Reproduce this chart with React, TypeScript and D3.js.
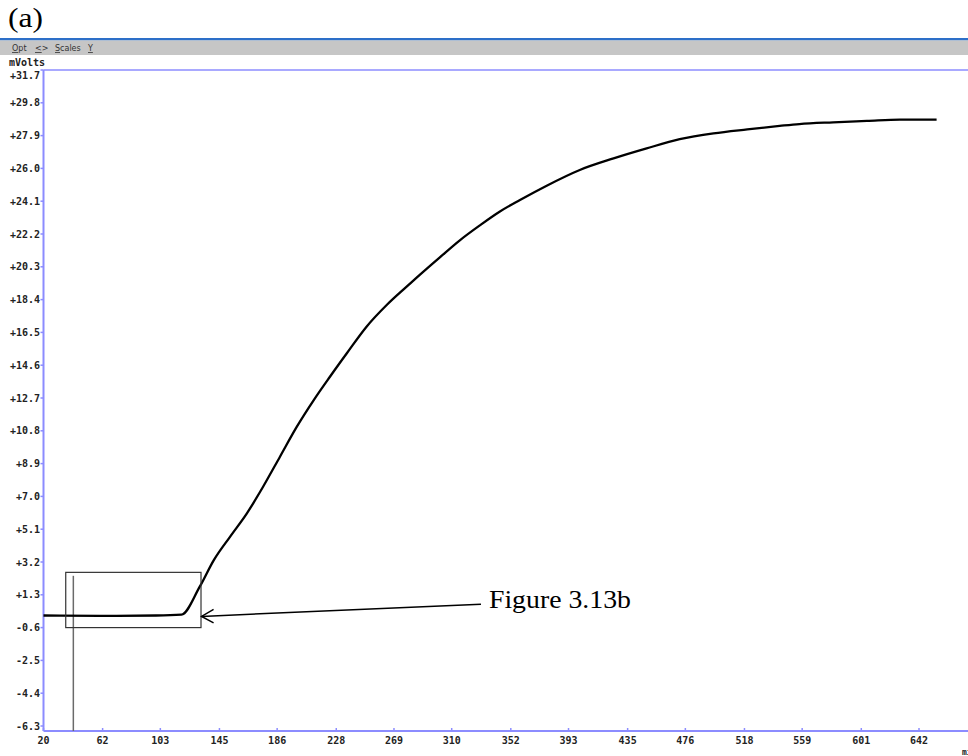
import React from "react";
import * as d3 from "d3";

// ---- data ----
const timeValues = [20, 60, 100, 118, 131, 141, 152.5, 164.5, 176, 188, 200, 212, 223.5, 235.5, 249.5, 264, 278, 287.5, 302, 316, 330, 344, 358.5, 377.5, 401, 425, 448.5, 472, 496, 520, 543, 557, 581, 605, 628.5, 654.5];
const mVoltValues = [0.1, 0.08, 0.1, 0.15, 1.77, 3.31, 4.66, 6.02, 7.56, 9.3, 11.04, 12.58, 13.93, 15.29, 16.83, 18.1, 19.15, 19.85, 20.88, 21.85, 22.7, 23.49, 24.17, 25.0, 25.91, 26.58, 27.16, 27.69, 28.03, 28.26, 28.46, 28.57, 28.67, 28.75, 28.83, 28.83];

const yTickLabels = ["+31.7", "+29.8", "+27.9", "+26.0", "+24.1", "+22.2", "+20.3", "+18.4", "+16.5", "+14.6", "+12.7", "+10.8", "+8.9", "+7.0", "+5.1", "+3.2", "+1.3", "-0.6", "-2.5", "-4.4", "-6.3"];
const xTickLabels = ["20", "62", "103", "145", "186", "228", "269", "310", "352", "393", "435", "476", "518", "559", "601", "642", "684"];
const toolbarItems = ["Opt", "<>", "Scales", "Y"];

// annotation (data units)
const markerTime = 41.2;
const markerTop = 2.4;
const zoomBox = { x0: 35.8, x1: 131.9, y0: 2.6, y1: -0.6 };
const arrowTip = { x: 132.3, y: 0.05 };
const arrowTail = { x: 330.8, y: 0.75 };
const annotationText = "Figure 3.13b";

export default function App() {
  const W = 968, H = 756;
  const x = d3.scaleLinear().domain([20, 642]).range([43.5, 919]);
  const y = d3.scaleLinear().domain([31.7, -6.3]).range([70, 726]);
  const axisBottom = 731;
  const axisColor = "#8c8cff";
  const mono = "'DejaVu Sans Mono', monospace";
  const serif = "'Liberation Serif', 'Times New Roman', serif";

  const line = d3
    .line<number>()
    .x((_, i) => x(timeValues[i]))
    .y((d) => y(d))
    .curve(d3.curveMonotoneX);

  const tipX = x(arrowTip.x), tipY = y(arrowTip.y);
  const toolbarX = [12, 35, 55, 88];

  return (
    <svg width={W} height={H} style={{ position: "absolute", left: 0, top: 0, background: "#fff" }}>
      <text x={8} y={27} fontFamily={serif} fontSize={28} textLength={35} lengthAdjust="spacingAndGlyphs">(a)</text>

      {/* toolbar */}
      <rect x={0} y={38} width={W} height={2.5} fill="#2d6fc8" />
      <rect x={0} y={40.5} width={W} height={14.5} fill="#c6c6c6" />
      {toolbarItems.map((t, i) => (
        <text key={t} x={toolbarX[i]} y={51} fontFamily="'DejaVu Sans', sans-serif" fontSize={8} fill="#333">
          <tspan textDecoration="underline">{t[0]}</tspan>
          {t.slice(1)}
        </text>
      ))}

      <text x={9} y={66} fontFamily={mono} fontWeight="bold" fontSize={10} fill="#222">mVolts</text>

      {/* frame */}
      <line x1={43.5} x2={W} y1={70} y2={70} stroke={axisColor} strokeWidth={1.5} />
      <line x1={43.5} x2={43.5} y1={70} y2={axisBottom} stroke={axisColor} strokeWidth={2} />
      <line x1={43.5} x2={W} y1={axisBottom} y2={axisBottom} stroke={axisColor} strokeWidth={2} />

      {/* y ticks */}
      {yTickLabels.map((lab) => {
        const v = parseFloat(lab);
        const py = y(v);
        return (
          <g key={lab}>
            <line x1={40.5} x2={43.5} y1={py} y2={py} stroke={axisColor} strokeWidth={1.5} />
            <text x={40} y={Math.max(py, 75) + 3.5} textAnchor="end" fontFamily={mono} fontWeight="bold" fontSize={10} fill="#222">{lab}</text>
          </g>
        );
      })}

      {/* x ticks */}
      {xTickLabels.map((lab) => {
        const px = x(+lab);
        return (
          <g key={lab}>
            <line x1={px} x2={px} y1={axisBottom - 3} y2={axisBottom} stroke={axisColor} strokeWidth={1.5} />
            <text x={px} y={744} textAnchor="middle" fontFamily={mono} fontWeight="bold" fontSize={10} fill="#222">{lab}</text>
          </g>
        );
      })}
      <text x={962} y={755} fontFamily={mono} fontWeight="bold" fontSize={8} fill="#222">min</text>

      {/* marker */}
      <line x1={x(markerTime)} x2={x(markerTime)} y1={y(markerTop)} y2={axisBottom} stroke="#6a6a6a" strokeWidth={1.5} />

      {/* curve */}
      <path d={line(mVoltValues) || ""} fill="none" stroke="#000" strokeWidth={2.3} strokeLinejoin="round" />

      {/* zoom box */}
      <rect x={x(zoomBox.x0)} y={y(zoomBox.y0)} width={x(zoomBox.x1) - x(zoomBox.x0)} height={y(zoomBox.y1) - y(zoomBox.y0)} fill="none" stroke="#333" strokeWidth={1.2} />

      {/* arrow */}
      <line x1={x(arrowTail.x)} y1={y(arrowTail.y)} x2={tipX} y2={tipY} stroke="#000" strokeWidth={1.5} />
      <polyline points={`${tipX + 12},${tipY - 7} ${tipX},${tipY} ${tipX + 12},${tipY + 6.5}`} fill="none" stroke="#000" strokeWidth={1.5} />
      <text x={x(arrowTail.x) + 8} y={y(arrowTail.y) + 4} fontFamily={serif} fontSize={26} textLength={142} lengthAdjust="spacingAndGlyphs">{annotationText}</text>
    </svg>
  );
}
